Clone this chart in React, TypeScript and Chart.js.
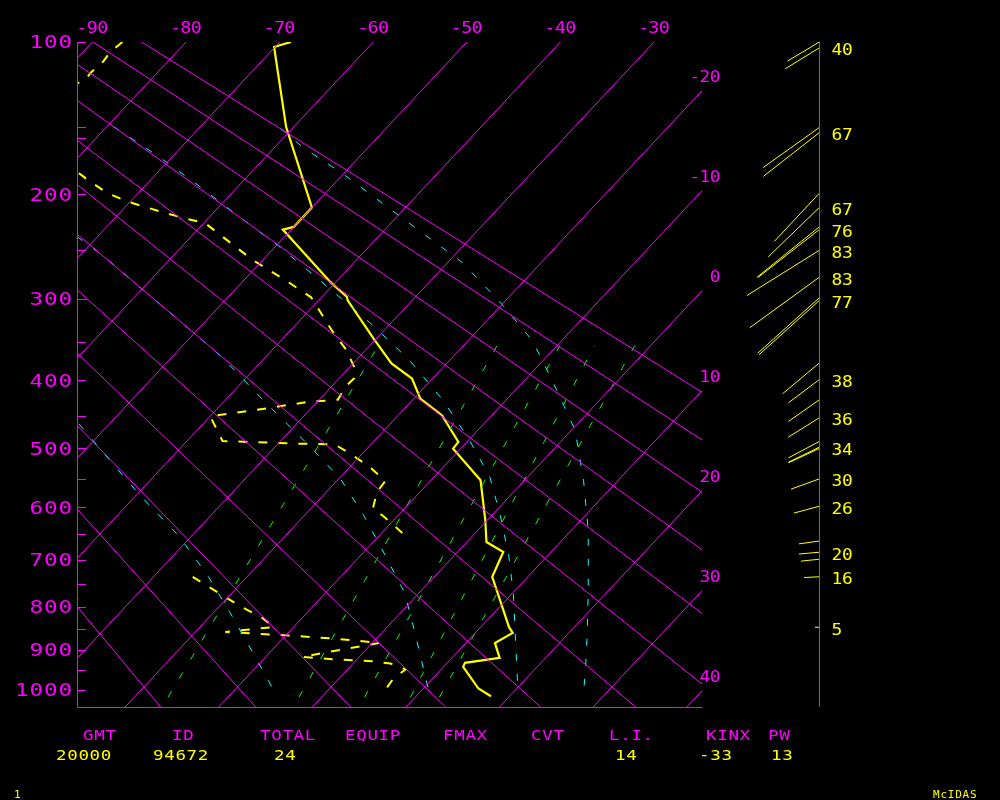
import { useEffect, useRef } from 'react';
import { Chart, registerables } from 'chart.js';

Chart.register(...registerables);

// ---------------- diagram constants ----------------
const KAPPA = 0.286;
const P_TOP = 100;
const P_BOTTOM = 1045;
const T_LEFT = -91.65;
const T_RIGHT = -24.876;
const SKEW = 18.63; // deg C per unit of p^kappa
const ADIABAT_P0 = 992;
const WIND_STAFF_X = -12.344;

// ---------------- grid values ----------------
const ISOTHERMS = [-90, -80, -70, -60, -50, -40, -30, -20, -10, 0, 10, 20, 30, 40];
const TOP_TEMP_LABELS = [-90, -80, -70, -60, -50, -40, -30];
const RIGHT_TEMP_LABELS = [-20, -10, 0, 10, 20, 30, 40];
const DRY_ADIABATS = [-20, -10, 0, 10, 20, 30, 40, 50, 60, 70, 80, 90];
const PRESSURE_LABELS = [100, 200, 300, 400, 500, 600, 700, 800, 900, 1000];
const PRESSURE_TICKS = [100, 150, 157, 200, 250, 300, 350, 400, 450, 500, 550, 600, 650, 700, 750, 800, 850, 900, 950, 1000];

// mixing-ratio lines (green): temperature at bottom / top pressure
const MIX_P = [1019, 355];
const MIX_T_BOTTOM = [-16.4, -2.4, 4.6, 9.5, 12.6];
const MIX_T_TOP = [-29.1, -16.4, -9.7, -6.0, -1.7];

// saturated adiabats (cyan)
const MOIST_A_P = [150.5, 163.7, 184.6, 209.1, 235.7, 261.7, 301.8, 326.8, 348.4, 373.5, 423.5, 471.8, 552.4, 642.3, 763.5, 852.9, 949.4, 1005.8];
const MOIST_A_T = [-61.3, -57.0, -49.7, -42.4, -35.1, -28.5, -20.8, -16.6, -13.2, -10.1, -4.5, 0.4, 6.3, 11.8, 17.8, 21.7, 25.5, 27.5];
const MOIST_B_P = [149.2, 169.5, 191.8, 217.7, 245.1, 290.9, 330.4, 373.5, 427.8, 484.1, 547.3, 614.3, 691.0, 770.0, 859.9, 1008.5];
const MOIST_B_T = [-79.4, -71.8, -64.6, -57.2, -49.9, -39.6, -31.7, -24.3, -16.7, -10.2, -4.0, 0.9, 5.8, 10.1, 14.3, 20.6];
const MOIST_C_P = [200, 238.5, 254.8, 290.9, 330.4, 371.0, 427.8, 484.1, 549.0, 614.3, 691.0, 770.0, 859.9, 957.0, 1005.8];
const MOIST_C_T = [-81.0, -71.8, -67.6, -59.7, -51.8, -44.4, -35.9, -28.0, -19.9, -13.7, -7.4, -1.5, 3.6, 8.6, 11.0];
const MOIST_D_P = [400, 459.3, 515.8, 581.9, 651.9, 731.6, 811.7, 907.4, 1005.8];
const MOIST_D_T = [-62.0, -53.6, -46.7, -39.2, -31.5, -24.4, -18.3, -11.7, -5.5];

// ---------------- sounding ----------------
const TEMP_P = [100, 102.5, 149.7, 211, 228.1, 230.5, 281.9, 298.2, 301.8, 346.3, 377.7, 397.6, 425.4, 449.5, 489.9, 500.3, 552.4, 623.5, 664.9, 684.5, 735.1, 845.3, 859.2, 882.8, 918.9, 931.2, 941.1, 996.2, 1016.3];
const TEMP_T = [-68.8, -70.1, -60.8, -50.0, -50.0, -50.9, -40.6, -37.3, -36.9, -30.3, -25.9, -22.2, -19.3, -15.3, -10.9, -10.8, -4.7, -0.2, 2.1, 4.9, 6.2, 13.0, 14.0, 13.1, 15.1, 11.9, 12.1, 15.9, 18.0];

const DEW_P = [100, 105.1, 110.0, 115.9, 121.2, 140, 182.1, 188.6, 198.8, 205.7, 210.5, 215.7, 220.6, 224.5, 259.0, 283.6, 298.5, 336.3, 360.9, 384.4, 397.3, 409.1, 426.9, 430.0, 438.6, 446.8, 450.7, 488.3, 492.4, 493.5, 508.2, 530.0, 553.6, 572.6, 603.9, 614.3, 647.4, null, 735.1, 774.3, 800.4, 825.2, 845.3, 856.9, 866.3, 872.4, 882.8, 898.6, 916.5, 922.2, 927.1, 932.8, 947.7, 970.4, 1000.6];
const DEW_T = [-86.8, -87.1, -86.9, -87.1, -87.0, -95, -78.6, -76.6, -73.3, -70.4, -67.9, -65.1, -62.4, -59.9, -51.2, -44.7, -41.1, -35.6, -32.0, -29.3, -28.4, -28.5, -28.0, -31.0, -34.5, -38.1, -40.0, -36.2, -28.2, -23.9, -21.3, -17.9, -14.8, -14.6, -13.3, -11.7, -7.8, null, -25.8, -20.8, -17.5, -14.2, -12.1, -16.8, -8.9, -4.6, 0.8, -2.6, -6.1, -2.7, 1.8, 4.0, 6.2, 5.8, 6.1];

// ---------------- winds ----------------
const WIND_P = [100, 103, 150, 153.5, 199, 211, 228, 230.5, 250, 277, 299, 302, 377, 399, 427, 453, 489, 498, 500, 550, 598, 663, 685, 699, 735, 846];
const WIND_SPD = [37, 40, 69, 71, 66, 71, 80, 78, 85.5, 86, 83, 81, 48, 38.6, 37.8, 36.7, 35, 34.4, 34, 30.1, 26.2, 20.5, 20.4, 18.4, 15.3, 4.3];
const WIND_DIR = [239, 238.5, 234.5, 232, 223, 226, 231, 232, 238, 234, 228, 228, 230, 233, 235, 238, 242, 244, 245, 250, 255, 262, 265, 264, 267, 270];
const WIND_LABEL = ['', '40', '', '67', '', '67', '', '76', '83', '83', '', '77', '', '38', '', '36', '', '34', '', '30', '26', '', '20', '', '16', '5'];

// ---------------- footer ----------------
const HEADERS = ['GMT', 'ID', 'TOTAL', 'EQUIP', 'FMAX', 'CVT', 'L.I.', 'KINX', 'PW'];
const HEADER_X = [83, 172, 260, 345, 443, 531, 609, 706, 768];
const VALUES = ['20000', '94672', '24', '14', '-33', '13'];
const VALUE_X = [56, 153, 274, 615, 699, 771];

const MAGENTA = '#ff00ff';
const YELLOW = '#ffff00';
const CYAN = '#00ffff';
const GREEN = '#00ff00';

// ---------------- helpers ----------------
const q = (p: number) => Math.pow(p, KAPPA);
const Q_TOP = q(P_TOP);
const Q_BOT = q(P_BOTTOM);
const PX_PER_C = 625 / (T_RIGHT - T_LEFT);
const PX_PER_Q = 665 / (Q_BOT - Q_TOP);
const pt = (p: number | null, t: number | null) =>
  p === null || t === null ? { x: null, y: null } : { x: t - SKEW * (q(p) - Q_TOP), y: q(p) };
const adiabatT = (theta: number, p: number) => (theta + 273.15) * Math.pow(p / ADIABAT_P0, KAPPA) - 273.15;

function drawMono(ctx: CanvasRenderingContext2D, text: string, left: number, cy: number, adv: number, size: number, sx: number, color: string) {
  ctx.save();
  ctx.fillStyle = color;
  ctx.font = `${size}px "DejaVu Sans Mono", monospace`;
  ctx.textBaseline = 'alphabetic';
  ctx.textAlign = 'left';
  const base = cy + 0.729 * size / 2;
  for (let i = 0; i < text.length; i++) {
    ctx.save();
    ctx.translate(left + i * adv, base);
    ctx.scale(sx, 1);
    ctx.fillText(text[i], 0, 0);
    ctx.restore();
  }
  ctx.restore();
}

const line = (data: any[], color: string, width: number, dash: number[] = [], extra: any = {}) => ({
  data,
  showLine: true,
  borderColor: color,
  backgroundColor: color,
  borderWidth: width,
  borderDash: dash,
  pointRadius: 0,
  pointHoverRadius: 0,
  fill: false,
  tension: 0,
  ...extra,
});

const decorPlugin = {
  id: 'skewtDecor',
  beforeDraw(chart: any) {
    const ctx = chart.ctx;
    ctx.save();
    ctx.fillStyle = '#000';
    ctx.fillRect(0, 0, chart.width, chart.height);
    ctx.restore();
  },
  afterDraw(chart: any) {
    const { ctx, chartArea: a, scales } = chart;
    const xs = scales.x;
    const ys = scales.y;
    ctx.save();
    ctx.strokeStyle = MAGENTA;
    ctx.lineWidth = 1;
    ctx.setLineDash([]);
    ctx.beginPath();
    ctx.moveTo(a.left + 0.5, a.top);
    ctx.lineTo(a.left + 0.5, a.bottom + 0.5);
    ctx.lineTo(a.right + 0.5, a.bottom + 0.5);
    PRESSURE_TICKS.forEach((p) => {
      const yy = Math.round(ys.getPixelForValue(q(p))) + 0.5;
      ctx.moveTo(a.left, yy);
      ctx.lineTo(a.left + 9, yy);
    });
    const staff = Math.round(xs.getPixelForValue(WIND_STAFF_X)) + 0.5;
    ctx.moveTo(staff, a.top);
    ctx.lineTo(staff, a.bottom);
    ctx.stroke();
    ctx.restore();

    // pressure labels
    PRESSURE_LABELS.forEach((p) => {
      const s = String(p);
      const yy = ys.getPixelForValue(q(p));
      drawMono(ctx, s, 71 - s.length * 14.5 + 2, yy, 14.5, 17.4, 1.3, MAGENTA);
    });
    // top temperature labels
    TOP_TEMP_LABELS.forEach((t) => {
      const s = String(t);
      const xx = xs.getPixelForValue(t);
      drawMono(ctx, s, xx - s.length * 10.4 / 2 - 0.5, 27.5, 10.4, 16, 1.15, MAGENTA);
    });
    // right temperature labels
    RIGHT_TEMP_LABELS.forEach((t) => {
      const s = String(t);
      const yy = ys.getPixelForValue(Q_TOP + (t - T_RIGHT) / SKEW);
      drawMono(ctx, s, 720 - s.length * 10.2, yy - 14, 10.2, 15.5, 1.15, MAGENTA);
    });
    // wind labels
    WIND_LABEL.forEach((lab, i) => {
      if (!lab) return;
      const yy = ys.getPixelForValue(q(WIND_P[i]));
      drawMono(ctx, lab, staff + 12, yy + 1.7, 10.4, 16, 1.12, YELLOW);
    });
    // footer
    HEADERS.forEach((h, i) => drawMono(ctx, h, HEADER_X[i], 734.5, 11.2, 14.6, 1.2, MAGENTA));
    VALUES.forEach((v, i) => drawMono(ctx, v, VALUE_X[i], 755, 11.2, 14.6, 1.2, YELLOW));
    drawMono(ctx, '1', 14, 793.5, 7.4, 11, 1.0, YELLOW);
    drawMono(ctx, 'McIDAS', 933, 793.5, 7.4, 11, 1.0, YELLOW);
  },
};

export default function App() {
  const ref = useRef<HTMLCanvasElement | null>(null);

  useEffect(() => {
    document.body.style.margin = '0';
    document.body.style.background = '#000';
    const canvas = ref.current;
    if (!canvas) return;

    const datasets: any[] = [];
    ISOTHERMS.forEach((t) => datasets.push(line([pt(P_TOP, t), pt(P_BOTTOM, t)], MAGENTA, 1)));
    DRY_ADIABATS.forEach((th) =>
      datasets.push(line([pt(P_TOP, adiabatT(th, P_TOP)), pt(P_BOTTOM, adiabatT(th, P_BOTTOM))], MAGENTA, 1))
    );
    MIX_T_BOTTOM.forEach((tb, i) =>
      datasets.push(line([pt(MIX_P[0], tb), pt(MIX_P[1], MIX_T_TOP[i])], GREEN, 1, [7, 15]))
    );
    const moist = [
      [MOIST_A_P, MOIST_A_T],
      [MOIST_B_P, MOIST_B_T],
      [MOIST_C_P, MOIST_C_T],
      [MOIST_D_P, MOIST_D_T],
    ];
    moist.forEach(([ps, ts]) => datasets.push(line(ps.map((p, i) => pt(p, ts[i])), CYAN, 1, [7, 13])));
    datasets.push(line(DEW_P.map((p, i) => pt(p, DEW_T[i])), YELLOW, 2, [9, 11], { spanGaps: false }));
    datasets.push(line(TEMP_P.map((p, i) => pt(p, TEMP_T[i])), YELLOW, 2.2));
    WIND_P.forEach((p, i) => {
      const d = (WIND_DIR[i] * Math.PI) / 180;
      const dxPx = WIND_SPD[i] * Math.sin(d);
      const dyPx = -WIND_SPD[i] * Math.cos(d);
      datasets.push(
        line(
          [
            { x: WIND_STAFF_X, y: q(p) },
            { x: WIND_STAFF_X + dxPx / PX_PER_C, y: q(p) + dyPx / PX_PER_Q },
          ],
          YELLOW,
          1,
          [],
          { clip: false }
        )
      );
    });

    const chart = new Chart(canvas, {
      type: 'scatter',
      data: { datasets },
      options: {
        animation: false,
        responsive: false,
        devicePixelRatio: 1,
        events: [],
        layout: { padding: { left: 77, top: 42, right: 1000 - 702, bottom: 800 - 707 } },
        scales: {
          x: { type: 'linear', min: T_LEFT, max: T_RIGHT, display: false },
          y: { type: 'linear', min: Q_TOP, max: Q_BOT, reverse: true, display: false },
        },
        plugins: { legend: { display: false }, tooltip: { enabled: false }, title: { display: false } },
      },
      plugins: [decorPlugin],
    } as any);

    return () => chart.destroy();
  }, []);

  return (
    <div style={{ position: 'fixed', left: 0, top: 0, width: 1000, height: 800, background: '#000' }}>
      <canvas ref={ref} width={1000} height={800} style={{ display: 'block', width: 1000, height: 800 }} />
    </div>
  );
}
